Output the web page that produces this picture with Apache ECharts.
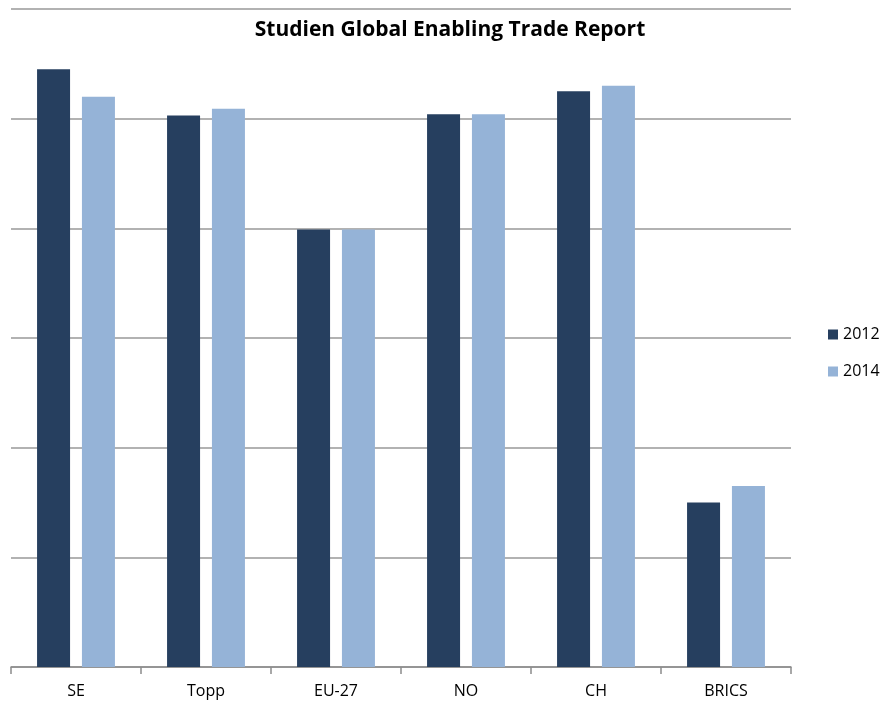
<!DOCTYPE html>
<html><head><meta charset="utf-8">
<script src="https://cdn.jsdelivr.net/npm/echarts@6/dist/echarts.min.js"></script>
<style>html,body{margin:0;padding:0;background:#fff}#c{width:890px;height:711px}</style>
</head><body><div id="c"></div>
<script>
const categories = ['SE', 'Topp', 'EU-27', 'NO', 'CH', 'BRICS'];
const values2012 = [5.45, 5.03, 3.99, 5.04, 5.25, 1.50];
const values2014 = [5.20, 5.09, 3.99, 5.04, 5.30, 1.65];
const seriesNames = ['2012', '2014'];
const chart = echarts.init(document.getElementById('c'));
chart.setOption({
  animation: false,
  title: {
    text: 'Studien Global Enabling Trade Report',
    left: 445, textAlign: 'center', top: 15,
    textStyle: { fontFamily: 'Open Sans', fontWeight: 'bold', fontSize: 21, color: '#000' }
  },
  legend: {
    orient: 'vertical', left: 823, top: 319, itemGap: 16,
    itemWidth: 10, itemHeight: 10, icon: 'rect',
    textStyle: { fontFamily: 'Open Sans', fontSize: 16, color: '#000', lineHeight: 21 },
    data: seriesNames
  },
  grid: { left: 11, right: 99, top: 9, bottom: 44 },
  xAxis: {
    type: 'category', data: categories, boundaryGap: true,
    axisLine: { lineStyle: { color: '#8c8c8c', width: 1.5 } },
    axisTick: { show: true, length: 7, lineStyle: { color: '#8c8c8c', width: 1.5 } },
    axisLabel: { margin: 16, fontFamily: 'Open Sans', fontSize: 16, color: '#000' }
  },
  yAxis: {
    type: 'value', min: 0, max: 6, interval: 1,
    axisLabel: { show: false }, axisLine: { show: false }, axisTick: { show: false },
    splitLine: { lineStyle: { color: '#999', width: 1.5 } }
  },
  series: [
    { name: seriesNames[0], type: 'bar', data: values2012, barWidth: 33, barGap: '36%',
      itemStyle: { color: '#263F5F' } },
    { name: seriesNames[1], type: 'bar', data: values2014, barWidth: 33,
      itemStyle: { color: '#95B3D7' } }
  ]
});
</script></body></html>
